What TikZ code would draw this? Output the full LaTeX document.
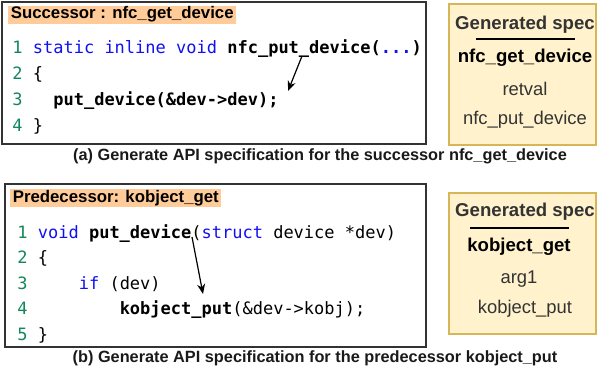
\documentclass[tikz,border=0pt]{standalone}
\usepackage{fontspec}
\setmainfont{Liberation Sans}
\setmonofont{DejaVu Sans Mono}
\usetikzlibrary{arrows.meta,positioning}
\definecolor{cdKey}{HTML}{1010F0}
\definecolor{cdNum}{HTML}{13875A}
\definecolor{tagPeach}{HTML}{FFCC99}
\definecolor{specFill}{HTML}{FFF2CC}
\definecolor{specEdge}{HTML}{D6B656}
\definecolor{inkGrey}{HTML}{333333}
\newcommand{\kw}[1]{\textcolor{cdKey}{#1}}
\newcommand{\lnum}[1]{\textcolor{cdNum}{#1}}

\begin{document}
\begin{tikzpicture}[x=0.5pt,y=-0.5pt,
  codebox/.style={draw=inkGrey, line width=0.7pt},
  specbox/.style={draw=specEdge, fill=specFill, line width=0.6pt},
  tag/.style={fill=tagPeach, font=\fontsize{8.4}{10}\selectfont\bfseries, inner xsep=1.2pt, inner ysep=0pt, minimum height=9pt, anchor=west},
  codeln/.style={font=\fontsize{8.5}{10}\selectfont\ttfamily, inner sep=0pt, anchor=base west},
  spechd/.style={font=\fontsize{9.3}{11}\selectfont\bfseries, text=inkGrey, inner sep=0pt},
  specfn/.style={font=\fontsize{9.3}{11}\selectfont\bfseries, text=black, inner sep=0pt},
  specit/.style={font=\fontsize{9.2}{11}\selectfont, text=inkGrey, inner sep=0pt},
  capt/.style={font=\fontsize{8.15}{10}\selectfont\bfseries, text=black!90, inner sep=0pt},
  call/.style={-{Stealth[length=5pt,width=4pt]}, line width=0.6pt},
]
\useasboundingbox (0,0) rectangle (597,372);
% ---- (a) successor ----
\draw[codebox] (2,2) rectangle (426,144);
\node[tag] (succTag) at (8,14.5) {Successor : nfc\_get\_device};
\node[codeln] (s1) at (12,53) {\lnum{1} \kw{static inline void} \textbf{nfc\_put\_device(\kw{...})}};
\node[codeln] (s2) at (12,79) {\lnum{2} \{};
\node[codeln] (s3) at (12,105) {\lnum{3} \hphantom{xx}\textbf{put\_device(\&dev->dev);}};
\node[codeln] (s4) at (12,131) {\lnum{4} \}};
\coordinate (succFrom) at (302,56);
\coordinate (succTo) at (288,91);
\draw[call] (succFrom) -- (succTo);
% spec card
\draw[specbox] (449,4) rectangle (596,145);
\node[spechd] (succHd) at (525,25) {Generated spec};
\draw[line width=0.6pt] (476,39) -- (575,39);
\node[specfn] (succFn) at (525,58) {nfc\_get\_device};
\node[specit] (succArg) at (525,89) {retval};
\node[specit] (succApi) at (525,120) {nfc\_put\_device};
\node[capt] (succCap) at (320,156) {(a) Generate API specification for the successor nfc\_get\_device};
% ---- (b) predecessor ----
\draw[codebox] (5,184) rectangle (426,347);
\node[tag] (predTag) at (10,198) {Predecessor: kobject\_get};
\node[codeln] (p1) at (17,238) {\lnum{1} \kw{void} \textbf{put\_device}(\kw{struct} device *dev)};
\node[codeln] (p2) at (17,263.5) {\lnum{2} \{};
\node[codeln] (p3) at (17,289) {\lnum{3} \hphantom{xxxx}\kw{if} (dev)};
\node[codeln] (p4) at (17,314.5) {\lnum{4} \hphantom{xxxxxxxx}\textbf{kobject\_put}(\&dev->kobj);};
\node[codeln] (p5) at (17,340) {\lnum{5} \}};
\coordinate (predFrom) at (192,237);
\coordinate (predTo) at (203,294);
\draw[call] (predFrom) -- (predTo);
% spec card
\draw[specbox] (449,193) rectangle (596,334);
\node[spechd] (predHd) at (525,212) {Generated spec};
\draw[line width=0.6pt] (470,228) -- (569,228);
\node[specfn] (predFn) at (519,247) {kobject\_get};
\node[specit] (predArg) at (519,279) {arg1};
\node[specit] (predApi) at (525,309) {kobject\_put};
\node[capt] (predCap) at (315,358) {(b) Generate API specification for the predecessor kobject\_put};
\end{tikzpicture}
\end{document}
